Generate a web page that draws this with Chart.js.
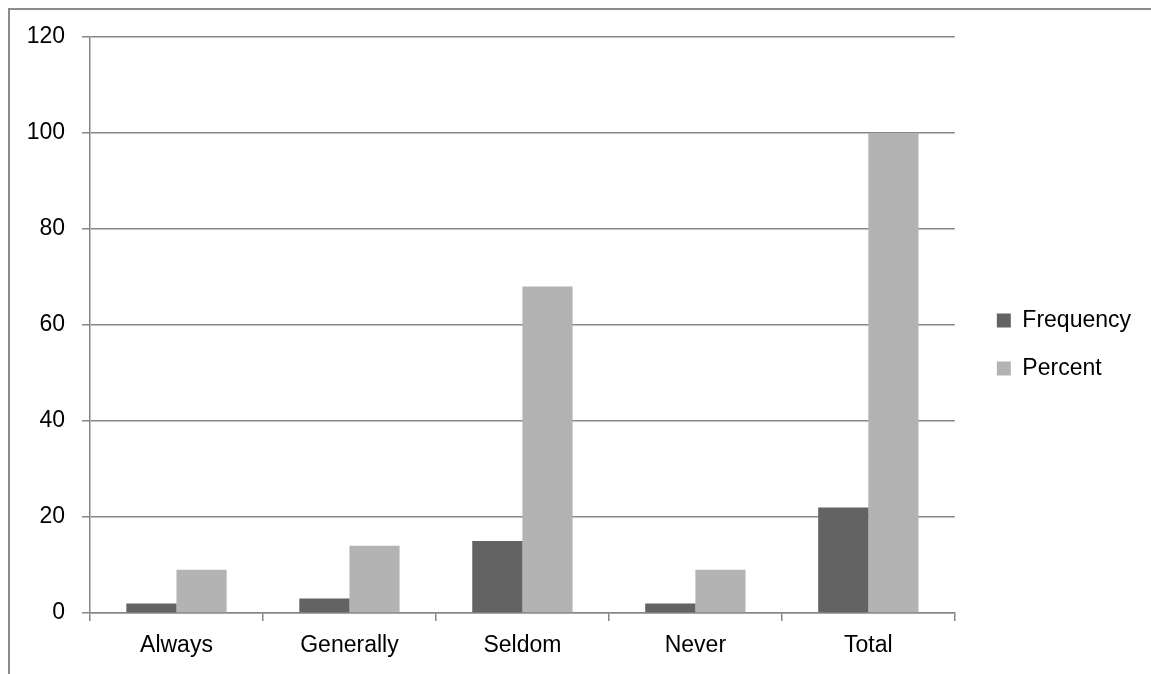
<!DOCTYPE html>
<html>
<head>
<meta charset="utf-8">
<script src="https://cdn.jsdelivr.net/npm/chart.js@4.4.1/dist/chart.umd.min.js"></script>
<style>
  html, body { margin: 0; padding: 0; background: #fff; }
  body { width: 1151px; height: 674px; position: relative; overflow: hidden; }
  #frame {
    position: absolute; left: 8px; top: 8px; right: -10px; bottom: -10px;
    border-left: 2px solid #8c8c8c; border-top: 2px solid #8c8c8c;
  }
  #wrap { position: absolute; left: 0; top: 0; width: 1151px; height: 674px; }
</style>
</head>
<body>
<div id="frame"></div>
<div id="wrap"><canvas id="chart" width="1151" height="674"></canvas></div>
<script>
const categories = ['Always', 'Generally', 'Seldom', 'Never', 'Total'];
const frequency = [2, 3, 15, 2, 22];
const percent = [9, 14, 68, 9, 100];
const yTicks = { min: 0, max: 120, step: 20 };

const AXIS_GREY = '#878787';
const FONT = { family: '"Liberation Sans", Arial, sans-serif', size: 23 };

// Nudges the right-hand legend block into place after layout.
const legendNudge = {
  id: 'legendNudge',
  afterLayout(chart, args, opts) {
    const lg = chart.legend;
    if (!lg) return;
    lg.left += opts.dx; lg.right += opts.dx;
    lg.top += opts.dy; lg.bottom += opts.dy;
  }
};

new Chart(document.getElementById('chart'), {
  type: 'bar',
  data: {
    labels: categories,
    datasets: [
      { label: 'Frequency', data: frequency, backgroundColor: '#636363', borderWidth: 0 },
      { label: 'Percent', data: percent, backgroundColor: '#b3b3b3', borderWidth: 0 }
    ]
  },
  plugins: [legendNudge],
  options: {
    responsive: false,
    animation: false,
    devicePixelRatio: 1,
    layout: { padding: { left: 0, top: 37, right: 27, bottom: 0 } },
    datasets: { bar: { categoryPercentage: 0.58, barPercentage: 1.0 } },
    scales: {
      x: {
        grid: {
          display: true, offset: true, drawOnChartArea: false,
          color: AXIS_GREY, lineWidth: 1.5, tickLength: 8, tickColor: AXIS_GREY
        },
        border: { display: true, color: AXIS_GREY, width: 1.5 },
        ticks: { color: '#000', font: FONT, padding: 11, maxRotation: 0 },
        afterFit(scale) { scale.height = 61; }
      },
      y: {
        min: yTicks.min, max: yTicks.max,
        grid: {
          color: AXIS_GREY, lineWidth: 1.5, tickLength: 8, tickColor: AXIS_GREY
        },
        border: { display: true, color: AXIS_GREY, width: 1.5 },
        ticks: { stepSize: yTicks.step, color: '#000', font: FONT, padding: 17 },
        afterFit(scale) { scale.width = 90; }
      }
    },
    plugins: {
      legend: {
        position: 'right',
        labels: {
          color: '#000', font: FONT, boxWidth: 14, boxHeight: 14, padding: 25
        }
      },
      legendNudge: { dx: 17, dy: -11 },
      tooltip: { enabled: false }
    }
  }
});
</script>
</body>
</html>
